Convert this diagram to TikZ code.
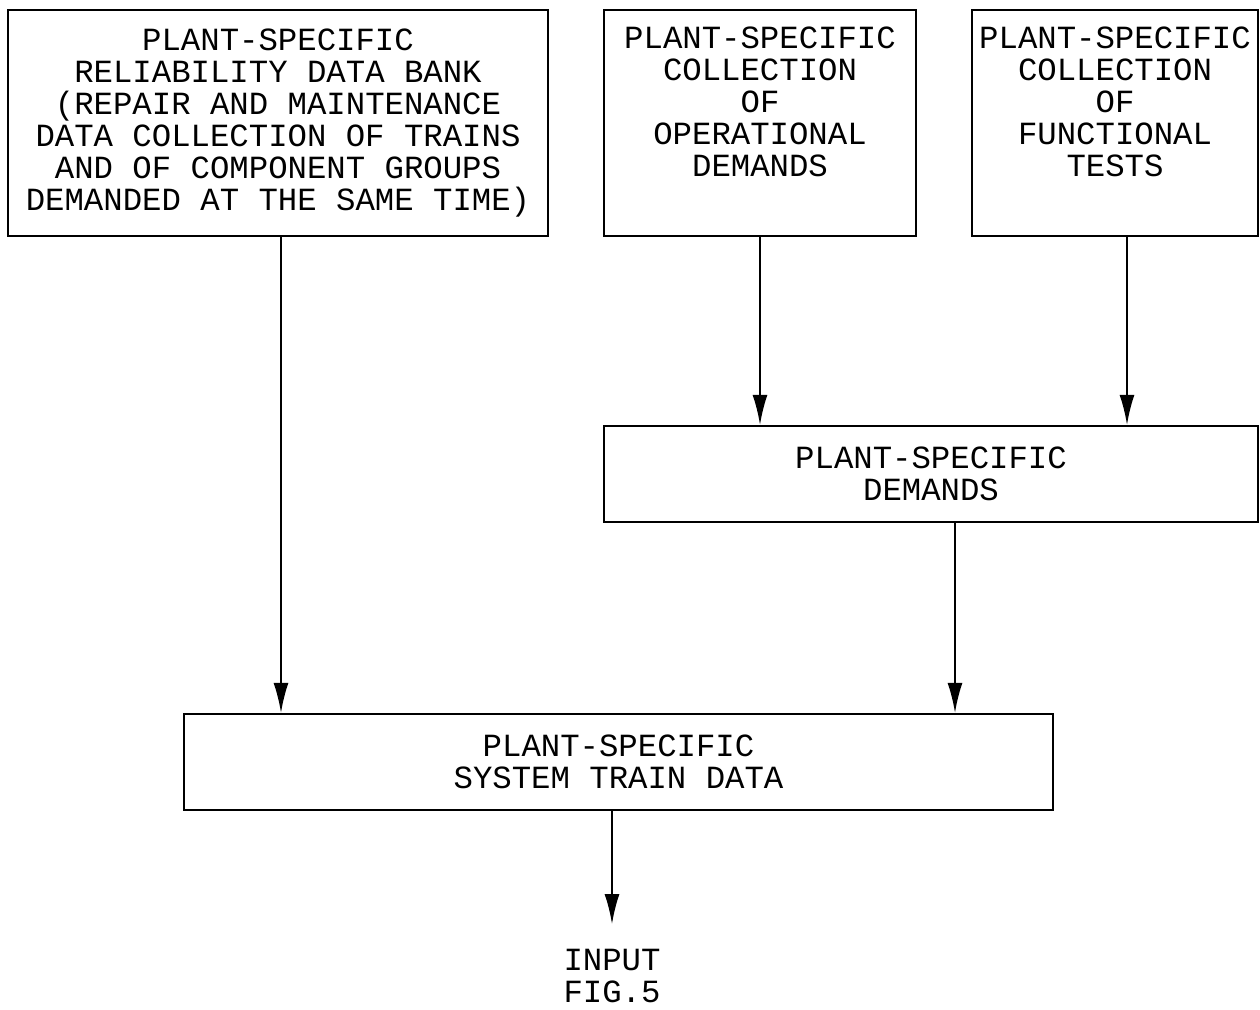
\documentclass[tikz,border=0pt]{standalone}
\usepackage{fontspec}
\setmonofont{Liberation Mono}
\usetikzlibrary{arrows.meta, positioning}

\begin{document}
\begin{tikzpicture}[x=0.02cm, y=-0.02cm,
        box/.style={rectangle, draw=black, line width=1.3pt, inner sep=2pt, align=center, font=\ttfamily\fontsize{18.4}{18.2}\selectfont},
        topbox/.style={box, minimum height=4.52cm},
        midbox/.style={box, minimum height=1.92cm},
        line/.style={draw=black, line width=1.1pt, -{Latex[length=0.6cm, width=0.3cm]}}]
        \useasboundingbox (0,0) rectangle (1260,1009);

        % data sources
        \node [topbox, minimum width=10.8cm] (relbank) at (278,123) {PLANT-SPECIFIC\\RELIABILITY DATA BANK\\(REPAIR AND MAINTENANCE\\DATA COLLECTION OF TRAINS\\AND OF COMPONENT GROUPS\\DEMANDED AT THE SAME TIME)};
        \node [topbox, minimum width=6.24cm] (opdem) at (760,123) {PLANT-SPECIFIC\\COLLECTION\\OF\\OPERATIONAL\\DEMANDS\\[0.2cm]\mbox{}};
        \node [topbox, minimum width=5.72cm] (functest) at (1115,123) {PLANT-SPECIFIC\\COLLECTION\\OF\\FUNCTIONAL\\TESTS\\[0.2cm]\mbox{}};

        \node [midbox, minimum width=13.08cm] (demands) at (931,474) {PLANT-SPECIFIC\\DEMANDS};
        \node [midbox, minimum width=17.38cm] (traindata) at (618.5,762) {PLANT-SPECIFIC\\SYSTEM TRAIN DATA};

        \node [box, draw=none, inner sep=0.48cm] (input) at (612,976) {INPUT\\FIG.5};

        \path [line] ([xshift=0.06cm]relbank.south) -- ([xshift=0.06cm]relbank.south |- traindata.north);
        \path [line] (opdem.south) -- (opdem.south |- demands.north);
        \path [line] ([xshift=0.24cm]functest.south) -- ([xshift=0.24cm]functest.south |- demands.north);
        \path [line] ([xshift=0.48cm]demands.south) -- ([xshift=0.48cm]demands.south |- traindata.north);
        \path [line] (traindata.south -| input.north) -- (input.north);
    \end{tikzpicture}
\end{document}
